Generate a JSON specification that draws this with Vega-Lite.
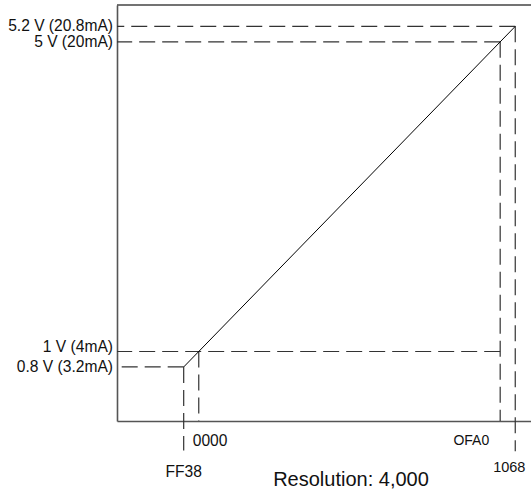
{
  "$schema": "https://vega.github.io/schema/vega-lite/v6.json",
  "autosize": {"type": "none"},
  "padding": {"left": 117, "top": 5, "right": 0, "bottom": 76},
  "width": 414,
  "height": 416,
  "background": "white",
  "config": {
    "view": {"stroke": null},
    "font": "Liberation Sans",
    "axis": {"labels": false, "ticks": false, "grid": false, "domain": true, "domainColor": "#555555", "domainWidth": 1.6, "titleColor": "transparent"}
  },
  "datasets": {
    "guides": [
      {"v": 0.8, "code": -200, "reach": -200, "end": -0.28},
      {"v": 1, "code": 0, "reach": 4000, "end": 0.102},
      {"v": 5, "code": 4000, "reach": 4000, "end": 0.102},
      {"v": 5.2, "code": 4200, "reach": 4200, "end": -0.29}
    ],
    "ylabels": [
      {"v": 0.8, "label": "0.8 V (3.2mA)"},
      {"v": 1, "label": "1 V (4mA)"},
      {"v": 5, "label": "5 V (20mA)"},
      {"v": 5.2, "label": "5.2 V (20.8mA)"}
    ],
    "xlabels": [
      {"code": -200, "label": "FF38"},
      {"code": 0, "label": "0000"},
      {"code": 4000, "label": "OFA0"},
      {"code": 4200, "label": "1068"}
    ],
    "line": [
      {"code": -200, "v": 0.8},
      {"code": 4200, "v": 5.2}
    ],
    "caption": [{"label": "Resolution: 4,000"}]
  },
  "layer": [
    {
      "data": {"name": "guides"},
      "mark": {"type": "rule", "stroke": "#333333", "strokeWidth": 1.2, "strokeDash": [16, 7]},
      "encoding": {
        "x": {"field": "reach", "type": "quantitative", "scale": {"domain": [-1085, 4409], "nice": false, "zero": false}},
        "x2": {"datum": -1085},
        "y": {"field": "v", "type": "quantitative", "scale": {"domain": [0.102, 5.476], "nice": false, "zero": false}}
      }
    },
    {
      "data": {"name": "guides"},
      "mark": {"type": "rule", "stroke": "#333333", "strokeWidth": 1.2, "strokeDash": [16, 7], "clip": false},
      "encoding": {
        "x": {"field": "code", "type": "quantitative", "scale": {"domain": [-1085, 4409], "nice": false, "zero": false}},
        "y": {"field": "v", "type": "quantitative", "scale": {"domain": [0.102, 5.476], "nice": false, "zero": false}},
        "y2": {"field": "end"}
      }
    },
    {
      "data": {"name": "line"},
      "mark": {"type": "line", "stroke": "#000000", "strokeWidth": 1},
      "encoding": {
        "x": {"field": "code", "type": "quantitative", "scale": {"domain": [-1085, 4409], "nice": false, "zero": false}},
        "y": {"field": "v", "type": "quantitative", "scale": {"domain": [0.102, 5.476], "nice": false, "zero": false}}
      }
    },
    {
      "data": {"name": "line"},
      "transform": [{"filter": "datum.code == 4200"}],
      "mark": {"type": "rule", "stroke": "#444444", "strokeWidth": 1.6},
      "encoding": {
        "y": {"datum": 5.476, "type": "quantitative", "scale": {"domain": [0.102, 5.476], "nice": false, "zero": false}}
      }
    },
    {
      "data": {"name": "ylabels"},
      "transform": [{"filter": "datum.v != 1"}],
      "mark": {"type": "text", "align": "right", "baseline": "middle", "dx": -4, "fontSize": 15.6, "color": "#111111"},
      "encoding": {
        "x": {"datum": -1085, "type": "quantitative", "scale": {"domain": [-1085, 4409], "nice": false, "zero": false}},
        "y": {"field": "v", "type": "quantitative", "scale": {"domain": [0.102, 5.476], "nice": false, "zero": false}},
        "text": {"field": "label"}
      }
    },
    {
      "data": {"name": "ylabels"},
      "transform": [{"filter": "datum.v == 1"}],
      "mark": {"type": "text", "align": "right", "baseline": "middle", "dx": -4, "dy": -4, "fontSize": 15.6, "color": "#111111"},
      "encoding": {
        "x": {"datum": -1085, "type": "quantitative", "scale": {"domain": [-1085, 4409], "nice": false, "zero": false}},
        "y": {"field": "v", "type": "quantitative", "scale": {"domain": [0.102, 5.476], "nice": false, "zero": false}},
        "text": {"field": "label"}
      }
    },
    {
      "data": {"name": "xlabels"},
      "transform": [{"filter": "datum.code == 0"}],
      "mark": {"type": "text", "align": "left", "baseline": "middle", "dx": -6, "fontSize": 15.6, "color": "#111111"},
      "encoding": {
        "x": {"field": "code", "type": "quantitative", "scale": {"domain": [-1085, 4409], "nice": false, "zero": false}},
        "y": {"datum": -0.156, "type": "quantitative", "scale": {"domain": [0.102, 5.476], "nice": false, "zero": false}},
        "text": {"field": "label"}
      }
    },
    {
      "data": {"name": "xlabels"},
      "transform": [{"filter": "datum.code == 4000"}],
      "mark": {"type": "text", "align": "right", "baseline": "middle", "dx": -11, "fontSize": 14, "color": "#111111"},
      "encoding": {
        "x": {"field": "code", "type": "quantitative", "scale": {"domain": [-1085, 4409], "nice": false, "zero": false}},
        "y": {"datum": -0.162, "type": "quantitative", "scale": {"domain": [0.102, 5.476], "nice": false, "zero": false}},
        "text": {"field": "label"}
      }
    },
    {
      "data": {"name": "xlabels"},
      "transform": [{"filter": "datum.code == -200"}],
      "mark": {"type": "text", "align": "center", "baseline": "middle", "fontSize": 15.6, "color": "#111111"},
      "encoding": {
        "x": {"field": "code", "type": "quantitative", "scale": {"domain": [-1085, 4409], "nice": false, "zero": false}},
        "y": {"datum": -0.552, "type": "quantitative", "scale": {"domain": [0.102, 5.476], "nice": false, "zero": false}},
        "text": {"field": "label"}
      }
    },
    {
      "data": {"name": "xlabels"},
      "transform": [{"filter": "datum.code == 4200"}],
      "mark": {"type": "text", "align": "center", "baseline": "middle", "dx": -6, "fontSize": 14.5, "color": "#111111"},
      "encoding": {
        "x": {"field": "code", "type": "quantitative", "scale": {"domain": [-1085, 4409], "nice": false, "zero": false}},
        "y": {"datum": -0.505, "type": "quantitative", "scale": {"domain": [0.102, 5.476], "nice": false, "zero": false}},
        "text": {"field": "label"}
      }
    },
    {
      "data": {"name": "caption"},
      "mark": {"type": "text", "align": "center", "baseline": "middle", "fontSize": 20, "color": "#111111"},
      "encoding": {
        "x": {"datum": 2020, "type": "quantitative", "scale": {"domain": [-1085, 4409], "nice": false, "zero": false}},
        "y": {"datum": -0.666, "type": "quantitative", "scale": {"domain": [0.102, 5.476], "nice": false, "zero": false}},
        "text": {"field": "label"}
      }
    }
  ]
}
